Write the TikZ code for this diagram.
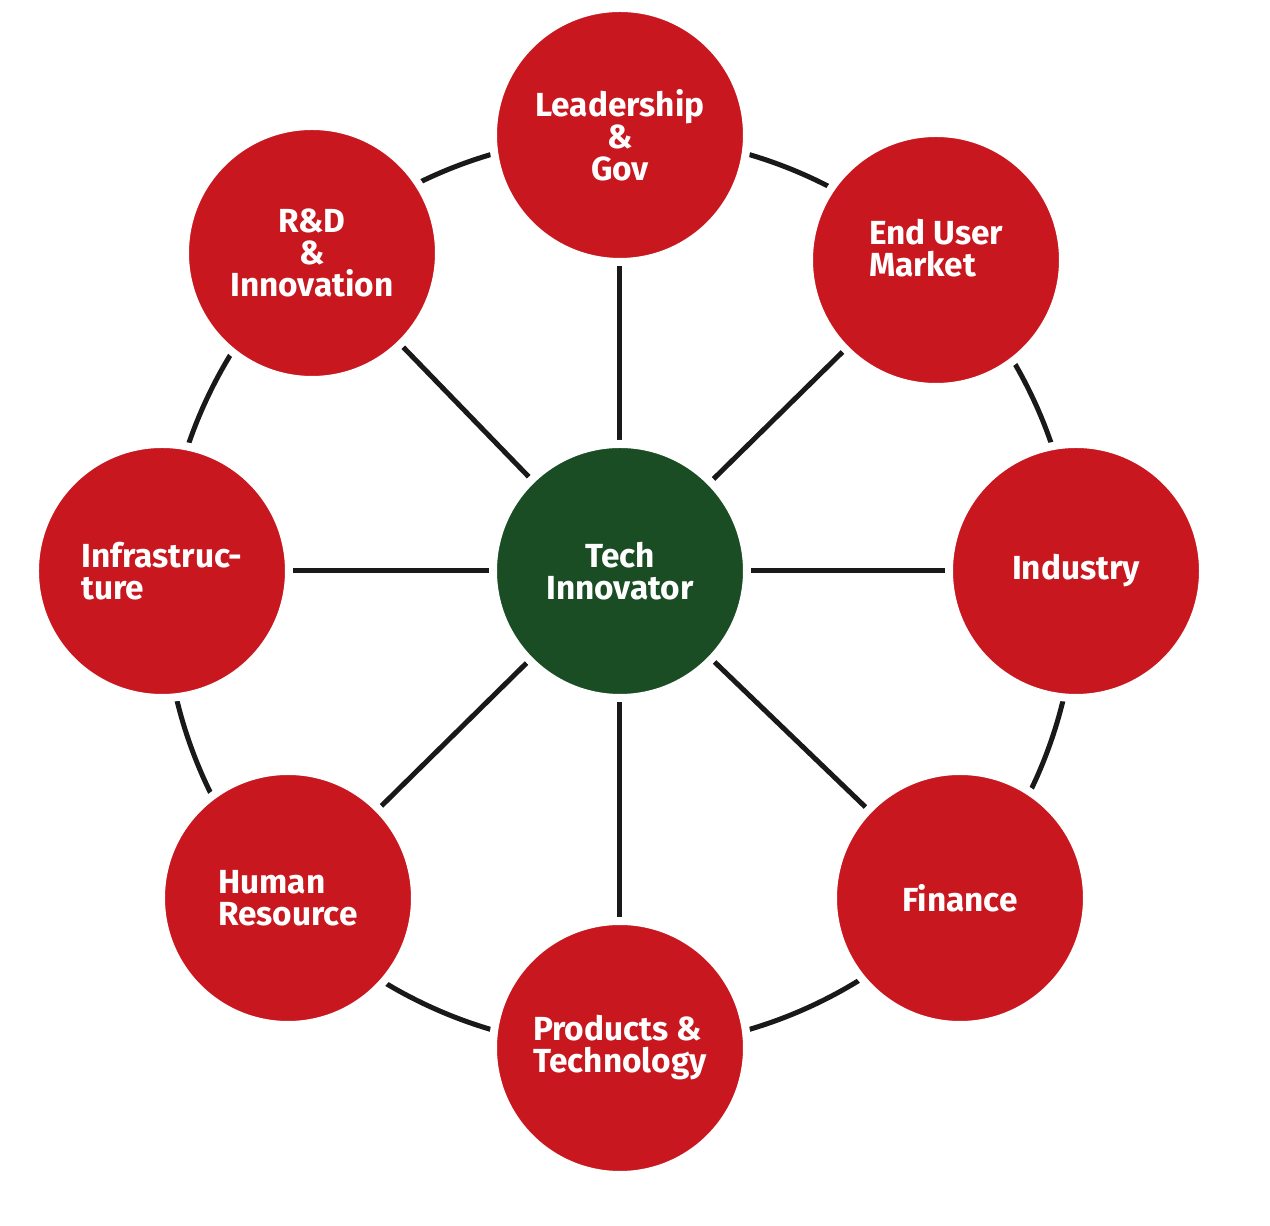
\documentclass[tikz,border=0pt]{standalone}
\usepackage{fontspec}
\setmainfont{Fira Sans}
\usepackage{xcolor}
\usetikzlibrary{positioning, backgrounds}

\definecolor{hubred}{HTML}{C8171F}
\definecolor{hubgreen}{HTML}{1B4D25}

\begin{document}
\begin{tikzpicture}[
  font=\bfseries\fontsize{19}{18.2}\selectfont,
  partner/.style={circle, fill=hubred, draw=white, line width=1.6mm,
                  minimum size=50.8mm, inner sep=0pt, text=white},
  core/.style={partner, fill=hubgreen},
  link/.style={line width=1mm, draw=black!90},
]
\useasboundingbox (-12.4,-12.68) rectangle (13.0,11.84);
\coordinate (hub) at (0,0);

\node[core, align=center] (tech) at (0, 0.42) {Tech\\Innovator};
\node[partner, align=center] (lead) at (0, 9.14) {Leadership\\\&\\Gov};
\node[partner, align=left] (user) at (6.32, 6.64) {End User\\Market\\[-1.6mm]};
\node[partner] (industry) at (9.12, 0.42) {Industry};
\node[partner] (finance) at (6.8, -6.12) {Finance};
\node[partner, align=left] (prod) at (0, -9.12) {Products \&\\Technology};
\node[partner, align=left] (human) at (-6.64, -6.12) {Human\\Resource};
\node[partner, align=left] (infra) at (-9.16, 0.42) {Infrastruc-\\ture};
\node[partner, align=center] (rnd) at (-6.16, 6.78) {R\&D\\\&\\Innovation};

\begin{scope}[on background layer]
  \draw[link] (hub) circle (9.12);
  \foreach \p in {lead, user, industry, finance, prod, human, infra, rnd}
    \draw[link] (tech) -- (\p);
\end{scope}
\end{tikzpicture}
\end{document}
